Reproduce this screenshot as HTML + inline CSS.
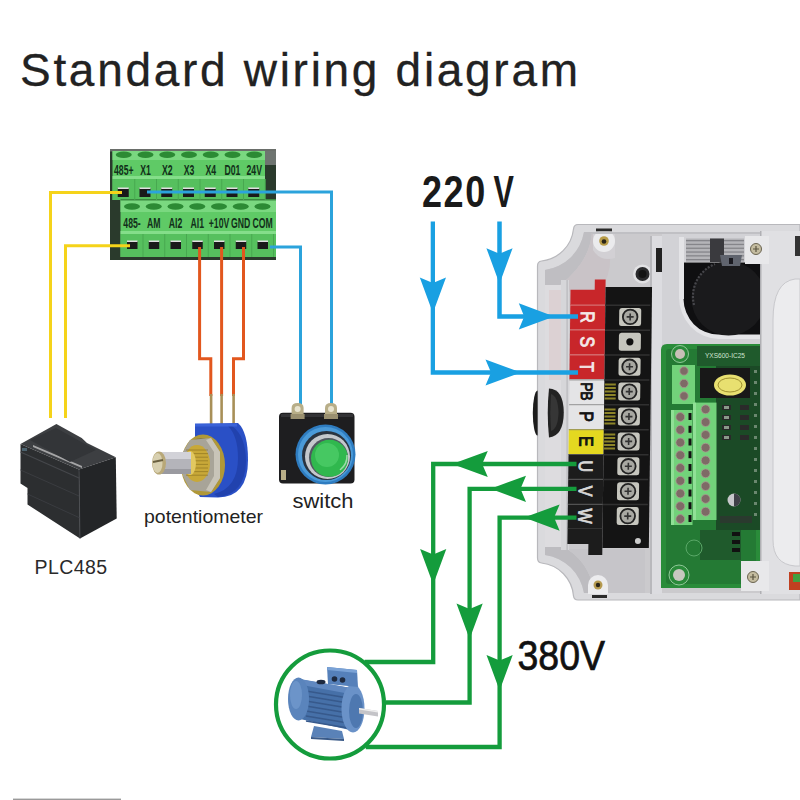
<!DOCTYPE html>
<html><head><meta charset="utf-8">
<style>
html,body{margin:0;padding:0;background:#fff;width:800px;height:800px;overflow:hidden}
svg{display:block}
text{font-family:"Liberation Sans",sans-serif}
</style></head>
<body>
<svg width="800" height="800" viewBox="0 0 800 800">
<rect width="800" height="800" fill="#fff"/>

<text x="0" y="0" font-size="46" fill="#222" stroke="#222" stroke-width="0.3" textLength="558" lengthAdjust="spacing" transform="translate(20 86)">Standard wiring diagram</text>
<rect x="110" y="149" width="166" height="111" fill="#2a3a2c"/>
<rect x="110" y="149" width="166" height="2.5" fill="#6a6e6a"/>
<rect x="265" y="151" width="11" height="14" fill="#6e7470"/>
<rect x="112.5" y="151" width="152.5" height="49" fill="#5fca66"/>
<rect x="112.5" y="151" width="152.5" height="9" fill="#7ad880"/>
<rect x="112.5" y="176" width="152.5" height="3" fill="#84de8a"/>
<rect x="112.5" y="179" width="152.5" height="21" fill="#56c05e"/>
<rect x="120.5" y="200" width="155.5" height="57" fill="#5fca66"/>
<rect x="120.5" y="200" width="155.5" height="12" fill="#7ad880"/>
<rect x="120.5" y="231" width="155.5" height="3" fill="#84de8a"/>
<rect x="120.5" y="234" width="155.5" height="23" fill="#56c05e"/>
<rect x="120.5" y="199" width="155.5" height="1.5" fill="#3a8a40"/>
<ellipse cx="123.75" cy="154.8" rx="8" ry="3.2" fill="#2c8a34"/>
<text x="123.75" y="175" font-size="15.5" font-weight="bold" fill="#12301a" text-anchor="middle" transform="translate(123.75 0) scale(0.56 1) translate(-123.75 0)">485+</text>
<rect x="134.25" y="179" width="1" height="21" fill="#48a850"/>
<rect x="117.75" y="188" width="11" height="9" fill="#1a1a1a"/>
<rect x="117.75" y="187.5" width="11" height="1.5" fill="#e0e0e0"/>
<ellipse cx="145.5" cy="154.8" rx="8" ry="3.2" fill="#2c8a34"/>
<text x="145.5" y="175" font-size="15.5" font-weight="bold" fill="#12301a" text-anchor="middle" transform="translate(145.5 0) scale(0.56 1) translate(-145.5 0)">X1</text>
<rect x="156.0" y="179" width="1" height="21" fill="#48a850"/>
<rect x="139.5" y="188" width="11" height="9" fill="#1a1a1a"/>
<rect x="139.5" y="187.5" width="11" height="1.5" fill="#e0e0e0"/>
<ellipse cx="167.25" cy="154.8" rx="8" ry="3.2" fill="#2c8a34"/>
<text x="167.25" y="175" font-size="15.5" font-weight="bold" fill="#12301a" text-anchor="middle" transform="translate(167.25 0) scale(0.56 1) translate(-167.25 0)">X2</text>
<rect x="177.75" y="179" width="1" height="21" fill="#48a850"/>
<rect x="161.25" y="188" width="11" height="9" fill="#1a1a1a"/>
<rect x="161.25" y="187.5" width="11" height="1.5" fill="#e0e0e0"/>
<ellipse cx="189.0" cy="154.8" rx="8" ry="3.2" fill="#2c8a34"/>
<text x="189.0" y="175" font-size="15.5" font-weight="bold" fill="#12301a" text-anchor="middle" transform="translate(189.0 0) scale(0.56 1) translate(-189.0 0)">X3</text>
<rect x="199.5" y="179" width="1" height="21" fill="#48a850"/>
<rect x="183.0" y="188" width="11" height="9" fill="#1a1a1a"/>
<rect x="183.0" y="187.5" width="11" height="1.5" fill="#e0e0e0"/>
<ellipse cx="210.75" cy="154.8" rx="8" ry="3.2" fill="#2c8a34"/>
<text x="210.75" y="175" font-size="15.5" font-weight="bold" fill="#12301a" text-anchor="middle" transform="translate(210.75 0) scale(0.56 1) translate(-210.75 0)">X4</text>
<rect x="221.25" y="179" width="1" height="21" fill="#48a850"/>
<rect x="204.75" y="188" width="11" height="9" fill="#1a1a1a"/>
<rect x="204.75" y="187.5" width="11" height="1.5" fill="#e0e0e0"/>
<ellipse cx="232.5" cy="154.8" rx="8" ry="3.2" fill="#2c8a34"/>
<text x="232.5" y="175" font-size="15.5" font-weight="bold" fill="#12301a" text-anchor="middle" transform="translate(232.5 0) scale(0.56 1) translate(-232.5 0)">D01</text>
<rect x="243.0" y="179" width="1" height="21" fill="#48a850"/>
<rect x="226.5" y="188" width="11" height="9" fill="#1a1a1a"/>
<rect x="226.5" y="187.5" width="11" height="1.5" fill="#e0e0e0"/>
<ellipse cx="254.25" cy="154.8" rx="8" ry="3.2" fill="#2c8a34"/>
<text x="254.25" y="175" font-size="15.5" font-weight="bold" fill="#12301a" text-anchor="middle" transform="translate(254.25 0) scale(0.56 1) translate(-254.25 0)">24V</text>
<rect x="264.75" y="179" width="1" height="21" fill="#48a850"/>
<rect x="248.25" y="188" width="11" height="9" fill="#1a1a1a"/>
<rect x="248.25" y="187.5" width="11" height="1.5" fill="#e0e0e0"/>
<ellipse cx="132.0" cy="206.5" rx="8" ry="3.2" fill="#2c8a34"/>
<text x="132.0" y="228" font-size="15.5" font-weight="bold" fill="#12301a" text-anchor="middle" transform="translate(132.0 0) scale(0.56 1) translate(-132.0 0)">485-</text>
<rect x="142.5" y="234" width="1" height="23" fill="#48a850"/>
<rect x="127.0" y="241" width="10.5" height="8" fill="#1a1a1a"/>
<rect x="127.0" y="240.5" width="10.5" height="1.5" fill="#e0e0e0"/>
<ellipse cx="153.75" cy="206.5" rx="8" ry="3.2" fill="#2c8a34"/>
<text x="153.75" y="228" font-size="15.5" font-weight="bold" fill="#12301a" text-anchor="middle" transform="translate(153.75 0) scale(0.56 1) translate(-153.75 0)">AM</text>
<rect x="164.25" y="234" width="1" height="23" fill="#48a850"/>
<rect x="148.75" y="241" width="10.5" height="8" fill="#1a1a1a"/>
<rect x="148.75" y="240.5" width="10.5" height="1.5" fill="#e0e0e0"/>
<ellipse cx="175.5" cy="206.5" rx="8" ry="3.2" fill="#2c8a34"/>
<text x="175.5" y="228" font-size="15.5" font-weight="bold" fill="#12301a" text-anchor="middle" transform="translate(175.5 0) scale(0.56 1) translate(-175.5 0)">AI2</text>
<rect x="186.0" y="234" width="1" height="23" fill="#48a850"/>
<rect x="170.5" y="241" width="10.5" height="8" fill="#1a1a1a"/>
<rect x="170.5" y="240.5" width="10.5" height="1.5" fill="#e0e0e0"/>
<ellipse cx="197.25" cy="206.5" rx="8" ry="3.2" fill="#2c8a34"/>
<text x="197.25" y="228" font-size="15.5" font-weight="bold" fill="#12301a" text-anchor="middle" transform="translate(197.25 0) scale(0.56 1) translate(-197.25 0)">AI1</text>
<rect x="207.75" y="234" width="1" height="23" fill="#48a850"/>
<rect x="192.25" y="241" width="10.5" height="8" fill="#1a1a1a"/>
<rect x="192.25" y="240.5" width="10.5" height="1.5" fill="#e0e0e0"/>
<ellipse cx="219.0" cy="206.5" rx="8" ry="3.2" fill="#2c8a34"/>
<text x="219.0" y="228" font-size="15.5" font-weight="bold" fill="#12301a" text-anchor="middle" transform="translate(219.0 0) scale(0.56 1) translate(-219.0 0)">+10V</text>
<rect x="229.5" y="234" width="1" height="23" fill="#48a850"/>
<rect x="214.0" y="241" width="10.5" height="8" fill="#1a1a1a"/>
<rect x="214.0" y="240.5" width="10.5" height="1.5" fill="#e0e0e0"/>
<ellipse cx="240.75" cy="206.5" rx="8" ry="3.2" fill="#2c8a34"/>
<text x="240.75" y="228" font-size="15.5" font-weight="bold" fill="#12301a" text-anchor="middle" transform="translate(240.75 0) scale(0.56 1) translate(-240.75 0)">GND</text>
<rect x="251.25" y="234" width="1" height="23" fill="#48a850"/>
<rect x="235.75" y="241" width="10.5" height="8" fill="#1a1a1a"/>
<rect x="235.75" y="240.5" width="10.5" height="1.5" fill="#e0e0e0"/>
<ellipse cx="262.5" cy="206.5" rx="8" ry="3.2" fill="#2c8a34"/>
<text x="262.5" y="228" font-size="15.5" font-weight="bold" fill="#12301a" text-anchor="middle" transform="translate(262.5 0) scale(0.56 1) translate(-262.5 0)">COM</text>
<rect x="273.0" y="234" width="1" height="23" fill="#48a850"/>
<rect x="257.5" y="241" width="10.5" height="8" fill="#1a1a1a"/>
<rect x="257.5" y="240.5" width="10.5" height="1.5" fill="#e0e0e0"/>
<polyline points="122,192.5 50.5,192.5 50.5,418" fill="none" stroke="#f5d31a" stroke-width="3"/>
<polyline points="130,245.7 65.5,245.7 65.5,418" fill="none" stroke="#f5d31a" stroke-width="3"/>
<polyline points="147,192 331.5,192 331.5,405" fill="none" stroke="#2ba3dc" stroke-width="3"/>
<polyline points="270,247 300.5,247 300.5,405" fill="none" stroke="#2ba3dc" stroke-width="3"/>
<polyline points="199.6,247 199.6,358.7 210.8,358.7 210.8,396" fill="none" stroke="#e2571e" stroke-width="3"/>
<polyline points="221.6,247 221.6,396" fill="none" stroke="#e2571e" stroke-width="3"/>
<polyline points="243.5,247 243.5,358.7 233.5,358.7 233.5,396" fill="none" stroke="#e2571e" stroke-width="3"/>
<polygon points="56.4,424 81.7,438 87,443 115.8,457.2 79,469.5 20.5,444.1" fill="#3d3f42"/>
<polygon points="20.5,444.1 79,469.5 80,538.6 27.5,504.5 27.5,488 20.5,483.5" fill="#2c2e30"/>
<polygon points="79,469.5 115.8,457.2 116.7,518.4 80,538.6" fill="#232527"/>
<polygon points="33,445 82,466 82,468 33,447" fill="#c8c8c8" opacity="0.75"/>
<polyline points="20.5,452 79,478" stroke="#45474b" stroke-width="1.2" fill="none"/>
<polyline points="20.5,470 79,496" stroke="#3a3c40" stroke-width="1" fill="none"/>
<polyline points="27.5,494 80,518" stroke="#3a3c40" stroke-width="1" fill="none"/>
<polyline points="79,469.5 80,538.6" stroke="#4a4c50" stroke-width="0.8" fill="none"/>
<rect x="22" y="448" width="5" height="3" fill="#5a7a8a" opacity="0.7"/>
<polygon points="30,440 56,428 96,450 70,462" fill="#333538"/>
<text x="34.5" y="574" font-size="19.5" fill="#2a2a2a" textLength="72.5" lengthAdjust="spacing">PLC485</text>
<rect x="209.8" y="394" width="2.6" height="31" fill="#a89058"/>
<rect x="220.3" y="394" width="2.6" height="31" fill="#a89058"/>
<rect x="232.3" y="394" width="2.6" height="31" fill="#a89058"/>
<path d="M195,424 L238,423 Q248,432 248,460 Q248,497 218,497.5 L200,497 Q195,490 195,480 Z" fill="#2a50c6"/>
<path d="M232,426 Q246,436 246,462 Q245,494 218,497 L214,494 Q238,488 238,458 Q238,436 228,426 Z" fill="#1f3fa8" opacity="0.8"/>
<rect x="195" y="423.5" width="42" height="3" fill="#3a62d8"/>
<ellipse cx="203" cy="465" rx="22" ry="30.5" fill="#b09838"/>
<ellipse cx="201" cy="464" rx="19" ry="26" fill="#8a7a48"/>
<polygon points="190,440 211,438 220,452 220,478 211,492 190,490 183,476 183,452" fill="#a8a498"/>
<polygon points="211,438 220,452 220,478 211,492 206,490 214,476 214,452 206,440" fill="#c8c4b8"/>
<ellipse cx="197" cy="463.5" rx="13" ry="18.5" fill="#c8a838"/>
<line x1="186" y1="450.0" x2="208" y2="450.0" stroke="#8a7020" stroke-width="0.9" opacity="0.7"/>
<line x1="186" y1="453.6" x2="208" y2="453.6" stroke="#8a7020" stroke-width="0.9" opacity="0.7"/>
<line x1="186" y1="457.2" x2="208" y2="457.2" stroke="#8a7020" stroke-width="0.9" opacity="0.7"/>
<line x1="186" y1="460.8" x2="208" y2="460.8" stroke="#8a7020" stroke-width="0.9" opacity="0.7"/>
<line x1="186" y1="464.4" x2="208" y2="464.4" stroke="#8a7020" stroke-width="0.9" opacity="0.7"/>
<line x1="186" y1="468.0" x2="208" y2="468.0" stroke="#8a7020" stroke-width="0.9" opacity="0.7"/>
<line x1="186" y1="471.6" x2="208" y2="471.6" stroke="#8a7020" stroke-width="0.9" opacity="0.7"/>
<line x1="186" y1="475.2" x2="208" y2="475.2" stroke="#8a7020" stroke-width="0.9" opacity="0.7"/>
<ellipse cx="190" cy="463" rx="6" ry="12" fill="#e2c860"/>
<rect x="160" y="452" width="31" height="22" fill="#b4b4ba"/>
<rect x="160" y="452" width="31" height="7" fill="#d2d2d8"/>
<rect x="160" y="469" width="31" height="5" fill="#9a9aa0"/>
<ellipse cx="159" cy="463" rx="7" ry="11.5" fill="#b8a878"/>
<ellipse cx="157.5" cy="463" rx="5" ry="10" fill="#d8d0b0"/>
<line x1="153" y1="462" x2="163" y2="460" stroke="#6a6040" stroke-width="2"/>
<text x="203.5" y="523" font-size="19" fill="#222" text-anchor="middle" textLength="119" lengthAdjust="spacingAndGlyphs">potentiometer</text>
<rect x="279" y="412.8" width="75.5" height="70.7" rx="4" fill="#1e1e20"/>
<rect x="281" y="414" width="72" height="3" fill="#3a3a3e" opacity="0.7"/>
<path d="M291.6,418 L291.6,408 Q291.6,403 297.6,403 Q303.6,403 303.6,408 L303.6,418 Z" fill="#b8ae88"/>
<circle cx="297.6" cy="409" r="3" fill="#e8e4d0"/>
<rect x="290.6" y="414" width="14" height="5" fill="#9a9070"/>
<path d="M325,418 L325,408 Q325,403 331,403 Q337,403 337,408 L337,418 Z" fill="#b8ae88"/>
<circle cx="331" cy="409" r="3" fill="#e8e4d0"/>
<rect x="324" y="414" width="14" height="5" fill="#9a9070"/>
<rect x="281" y="470" width="5" height="10" fill="#b8ae88"/>
<circle cx="325.5" cy="454.5" r="30" fill="#2e7cc0"/>
<circle cx="325.5" cy="454.5" r="27.5" fill="#4a9ad8"/>
<circle cx="326.5" cy="455.5" r="24.5" fill="#2a3440"/>
<circle cx="327.5" cy="456.5" r="22.5" fill="#c4c8cc"/>
<circle cx="328.5" cy="457.5" r="19.5" fill="#505860"/>
<circle cx="329.5" cy="458.3" r="18.5" fill="#30b84e"/>
<circle cx="327" cy="455" r="12" fill="#4ccc68" opacity="0.8"/>
<path d="M340,470 A18,18 0 0 0 347,455" stroke="#e8f0e8" stroke-width="1.5" fill="none" opacity="0.6"/>
<text x="323" y="508" font-size="20" fill="#222" text-anchor="middle" textLength="61" lengthAdjust="spacingAndGlyphs">switch</text>
<text x="0" y="0" font-size="45" font-weight="bold" fill="#1a1a1a" textLength="79" lengthAdjust="spacing" transform="translate(422 207) scale(0.8 1)">220</text>
<text x="0" y="0" font-size="45" font-weight="bold" fill="#1a1a1a" transform="translate(493.5 207) scale(0.68 1)">V</text>
<defs><radialGradient id="gcap" cx="0.45" cy="0.4" r="0.6"><stop offset="0" stop-color="#2a2a2c"/><stop offset="1" stop-color="#0e0e10"/></radialGradient></defs>
<path d="M582,224.5 L800,224.5 L800,600 L578,600 Q574,600 573.5,596 A36,36 0 0 0 541.5,563 Q537.5,562.5 537.5,558 L537.5,266 Q537.5,261.5 541.5,261 A36,36 0 0 0 573.5,229 Q574,224.5 578,224.5 Z" fill="#dadadd"/>
<path d="M582,224.5 L800,224.5 L800,600 L578,600 Q574,600 573.5,596 A36,36 0 0 0 541.5,563 Q537.5,562.5 537.5,558 L537.5,266 Q537.5,261.5 541.5,261 A36,36 0 0 0 573.5,229 Q574,224.5 578,224.5 Z" fill="none" stroke="#b8b8bc" stroke-width="1.2"/>
<path d="M584,232 L800,232 L800,593 L584,593 A46,46 0 0 0 545,555 L545,270 A46,46 0 0 0 584,232 Z" fill="#cbcacd"/>
<path d="M545,270 A46,46 0 0 0 584,232 L592,232 Q590,262 560,285 L545,290 Z" fill="#bfbec2"/>
<path d="M560,285 Q590,262 592,232 L610,250 Q612,275 600,290 L565,292 Z" fill="#c9c3c7"/>
<path d="M545,555 A46,46 0 0 1 584,593 L594,593 Q590,560 560,545 L545,545 Z" fill="#bdbcc0"/>
<path d="M560,545 Q590,560 594,593 L645,593 L645,549 L566,549 Z" fill="#c6c5c9"/>
<rect x="545" y="285" width="16" height="262" fill="#dddcdf"/>
<rect x="549" y="290" width="12" height="90" fill="#dccfd2" opacity="0.9"/>
<rect x="561" y="280" width="8" height="270" fill="#d6d6d9"/><rect x="566.5" y="280" width="1.2" height="270" fill="#b8b8bc"/>
<path d="M593,232 L593,250 Q600,262 615,258 L615,232 Z" fill="#d2d0d4"/>
<circle cx="604" cy="241" r="11" fill="#ebebed"/><circle cx="604" cy="241" r="4.8" fill="#b89c48"/><circle cx="604" cy="241.5" r="2.3" fill="#2a2418"/>
<rect x="596" y="228.5" width="16" height="2.8" fill="#2a2a2a"/>
<path d="M588,594 L588,585 A10,10 0 0 1 608,585 L608,594 Z" fill="#ececee"/><circle cx="598" cy="585" r="4.5" fill="#b59a50"/><circle cx="598" cy="585" r="2.2" fill="#2a2418"/>
<rect x="592" y="595" width="15" height="3" fill="#2a2a2a"/>
<circle cx="642.5" cy="274" r="9.5" fill="#e2e2e4"/><circle cx="642.5" cy="274" r="7" fill="#2a2a2c"/><circle cx="642.5" cy="274" r="4" fill="#141414"/>
<rect x="650" y="236" width="12" height="358" fill="#dcdce0"/>
<rect x="650" y="236" width="2" height="358" fill="#b8b8bc"/>
<rect x="656" y="248" width="7" height="24" fill="#222"/>
<rect x="592" y="232" width="208" height="2" fill="#c0c0c4"/>
<g transform="translate(0 290) skewX(-0.7) translate(0 -290)">
<path d="M570.5,289.7 L594.7,289.7 L594.7,279.4 L605.5,279.4 L605.5,305 L570.5,305 Z" fill="#c8262a"/>
<rect x="570.5" y="304.5" width="35" height="25.1" fill="#c8262a"/>
<rect x="570.5" y="304.5" width="35" height="1.2" fill="#e0a0a0" opacity="0.6"/>
<text x="0" y="0" font-size="19.5" fill="#f4e8e8" stroke="#f4e8e8" stroke-width="0.9" text-anchor="middle" transform="translate(588 316.9) rotate(90) scale(0.82 1) translate(0 6.8)">R</text>
<rect x="570.5" y="329.4" width="35" height="25.1" fill="#c8262a"/>
<rect x="570.5" y="329.4" width="35" height="1.2" fill="#e0a0a0" opacity="0.6"/>
<text x="0" y="0" font-size="19.5" fill="#f4e8e8" stroke="#f4e8e8" stroke-width="0.9" text-anchor="middle" transform="translate(588 341.8) rotate(90) scale(0.82 1) translate(0 6.8)">S</text>
<rect x="570.5" y="354.3" width="35" height="25.1" fill="#c8262a"/>
<rect x="570.5" y="354.3" width="35" height="1.2" fill="#e0a0a0" opacity="0.6"/>
<text x="0" y="0" font-size="19.5" fill="#f4e8e8" stroke="#f4e8e8" stroke-width="0.9" text-anchor="middle" transform="translate(588 366.8) rotate(90) scale(0.82 1) translate(0 6.8)">T</text>
<rect x="570.5" y="379.2" width="35" height="25.1" fill="#e4e4e6"/>
<rect x="570.5" y="379.2" width="35" height="1.2" fill="#777" opacity="0.6"/>
<text x="0" y="0" font-size="16.5" fill="#111" stroke="#111" stroke-width="0.9" text-anchor="middle" transform="translate(588 391.6) rotate(90) scale(0.82 1) translate(0 5.8)">PB</text>
<rect x="570.5" y="404.1" width="35" height="25.1" fill="#e4e4e6"/>
<rect x="570.5" y="404.1" width="35" height="1.2" fill="#777" opacity="0.6"/>
<text x="0" y="0" font-size="19.5" fill="#111" stroke="#111" stroke-width="0.9" text-anchor="middle" transform="translate(588 416.6) rotate(90) scale(0.82 1) translate(0 6.8)">P</text>
<rect x="570.5" y="429.0" width="35" height="25.1" fill="#e4d820"/>
<rect x="570.5" y="429.0" width="35" height="1.2" fill="#777" opacity="0.6"/>
<text x="0" y="0" font-size="19.5" fill="#111" stroke="#111" stroke-width="0.9" text-anchor="middle" transform="translate(588 441.4) rotate(90) scale(0.82 1) translate(0 6.8)">E</text>
<rect x="570.5" y="453.9" width="35" height="25.1" fill="#1c1c1c"/>
<rect x="570.5" y="453.9" width="35" height="1.2" fill="#777" opacity="0.6"/>
<text x="0" y="0" font-size="19.5" fill="#d8d8d8" stroke="#d8d8d8" stroke-width="0.9" text-anchor="middle" transform="translate(588 466.3) rotate(90) scale(0.82 1) translate(0 6.8)">U</text>
<rect x="570.5" y="478.8" width="35" height="25.1" fill="#1c1c1c"/>
<rect x="570.5" y="478.8" width="35" height="1.2" fill="#777" opacity="0.6"/>
<text x="0" y="0" font-size="19.5" fill="#d8d8d8" stroke="#d8d8d8" stroke-width="0.9" text-anchor="middle" transform="translate(588 491.2) rotate(90) scale(0.82 1) translate(0 6.8)">V</text>
<rect x="570.5" y="503.7" width="35" height="25.1" fill="#1c1c1c"/>
<rect x="570.5" y="503.7" width="35" height="1.2" fill="#777" opacity="0.6"/>
<text x="0" y="0" font-size="19.5" fill="#d8d8d8" stroke="#d8d8d8" stroke-width="0.9" text-anchor="middle" transform="translate(588 516.1) rotate(90) scale(0.82 1) translate(0 6.8)">W</text>
<path d="M570.5,528.5 L605.5,528.5 L605.5,555 L591.5,555 L591.5,544 L570.5,544 Z" fill="#1c1c1c"/>
<rect x="605.5" y="287" width="46.5" height="261" fill="#141414"/>
<rect x="605.5" y="304.5" width="45" height="1.5" fill="#303030"/>
<rect x="619.5" y="307.9" width="22" height="18" rx="2.5" fill="#c6c6be"/>
<circle cx="630.5" cy="316.9" r="7.3" fill="#a8a8a2" stroke="#222" stroke-width="1.8"/>
<path d="M627,316.9 h7 M630.5,313.4 v7" stroke="#333" stroke-width="1.6"/>
<rect x="605.5" y="329.4" width="45" height="1.5" fill="#303030"/>
<rect x="619.5" y="332.8" width="22" height="18" rx="2.5" fill="#c6c6be"/>
<circle cx="630.5" cy="341.8" r="3.6" fill="#111"/>
<rect x="605.5" y="354.3" width="45" height="1.5" fill="#303030"/>
<rect x="619.5" y="357.8" width="22" height="18" rx="2.5" fill="#c6c6be"/>
<circle cx="630.5" cy="366.8" r="7.3" fill="#a8a8a2" stroke="#222" stroke-width="1.8"/>
<path d="M627,366.8 h7 M630.5,363.2 v7" stroke="#333" stroke-width="1.6"/>
<rect x="605.5" y="379.2" width="45" height="1.5" fill="#303030"/>
<rect x="606" y="383.6" width="11" height="2" fill="#8c8428"/>
<rect x="606" y="387.1" width="11" height="2" fill="#8c8428"/>
<rect x="606" y="390.6" width="11" height="2" fill="#8c8428"/>
<rect x="606" y="394.1" width="11" height="2" fill="#8c8428"/>
<rect x="606" y="397.6" width="11" height="2" fill="#8c8428"/>
<rect x="619.5" y="382.6" width="22" height="18" rx="2.5" fill="#c6c6be"/>
<circle cx="630.5" cy="391.6" r="7.3" fill="#a8a8a2" stroke="#222" stroke-width="1.8"/>
<path d="M627,391.6 h7 M630.5,388.1 v7" stroke="#333" stroke-width="1.6"/>
<rect x="605.5" y="404.1" width="45" height="1.5" fill="#303030"/>
<rect x="606" y="408.6" width="11" height="2" fill="#8c8428"/>
<rect x="606" y="412.1" width="11" height="2" fill="#8c8428"/>
<rect x="606" y="415.6" width="11" height="2" fill="#8c8428"/>
<rect x="606" y="419.1" width="11" height="2" fill="#8c8428"/>
<rect x="606" y="422.6" width="11" height="2" fill="#8c8428"/>
<rect x="619.5" y="407.6" width="22" height="18" rx="2.5" fill="#c6c6be"/>
<circle cx="630.5" cy="416.6" r="7.3" fill="#a8a8a2" stroke="#222" stroke-width="1.8"/>
<path d="M627,416.6 h7 M630.5,413.1 v7" stroke="#333" stroke-width="1.6"/>
<rect x="605.5" y="429.0" width="45" height="1.5" fill="#303030"/>
<rect x="606" y="433.4" width="11" height="2" fill="#8c8428"/>
<rect x="606" y="436.9" width="11" height="2" fill="#8c8428"/>
<rect x="606" y="440.4" width="11" height="2" fill="#8c8428"/>
<rect x="606" y="443.9" width="11" height="2" fill="#8c8428"/>
<rect x="606" y="447.4" width="11" height="2" fill="#8c8428"/>
<rect x="619.5" y="432.4" width="22" height="18" rx="2.5" fill="#c6c6be"/>
<circle cx="630.5" cy="441.4" r="7.3" fill="#a8a8a2" stroke="#222" stroke-width="1.8"/>
<path d="M627,441.4 h7 M630.5,437.9 v7" stroke="#333" stroke-width="1.6"/>
<rect x="605.5" y="453.9" width="45" height="1.5" fill="#303030"/>
<rect x="619.5" y="457.3" width="22" height="18" rx="2.5" fill="#c6c6be"/>
<circle cx="630.5" cy="466.3" r="7.3" fill="#a8a8a2" stroke="#222" stroke-width="1.8"/>
<path d="M627,466.3 h7 M630.5,462.8 v7" stroke="#333" stroke-width="1.6"/>
<rect x="605.5" y="478.8" width="45" height="1.5" fill="#303030"/>
<rect x="619.5" y="482.2" width="22" height="18" rx="2.5" fill="#c6c6be"/>
<circle cx="630.5" cy="491.2" r="7.3" fill="#a8a8a2" stroke="#222" stroke-width="1.8"/>
<path d="M627,491.2 h7 M630.5,487.7 v7" stroke="#333" stroke-width="1.6"/>
<rect x="605.5" y="503.7" width="45" height="1.5" fill="#303030"/>
<rect x="619.5" y="507.1" width="22" height="18" rx="2.5" fill="#c6c6be"/>
<circle cx="630.5" cy="516.1" r="7.3" fill="#a8a8a2" stroke="#222" stroke-width="1.8"/>
<path d="M627,516.1 h7 M630.5,512.6 v7" stroke="#333" stroke-width="1.6"/>
<circle cx="641" cy="541" r="3" fill="#ccc"/>
</g>
<rect x="662" y="234" width="98" height="110" fill="#d2d2d6"/>
<rect x="686" y="238.5" width="58" height="24" fill="#b4b4b8"/>
<rect x="686" y="240.0" width="58" height="1.3" fill="#85858a"/>
<rect x="686" y="243.8" width="58" height="1.3" fill="#85858a"/>
<rect x="686" y="247.6" width="58" height="1.3" fill="#85858a"/>
<rect x="686" y="251.4" width="58" height="1.3" fill="#85858a"/>
<rect x="686" y="255.2" width="58" height="1.3" fill="#85858a"/>
<rect x="686" y="259.0" width="58" height="1.3" fill="#85858a"/>
<rect x="710" y="238.5" width="14" height="24" fill="#3a3a3e"/>
<path d="M679,262 L760,262 L760,339 L719,339 A40,42 0 0 1 679,297 Z" fill="#e4e4e7"/>
<path d="M683.5,262.5 L760,262.5 L760,334.5 L718,334.5 A34.5,36 0 0 1 683.5,299 Z" fill="#0f0f11"/>
<circle cx="728.5" cy="298.5" r="37" fill="#1a1a1c"/>
<path d="M694,305 A35,35 0 0 1 715,264" stroke="#5a5a60" stroke-width="2.2" fill="none" stroke-dasharray="2 1.5" opacity="0.7"/>
<polygon points="720,255 742,255 740,266 722,266" fill="#60646e"/>
<rect x="729" y="258" width="4" height="6" fill="#1a1a20"/>
<rect x="679" y="237" width="5" height="62" fill="#e4e4e7"/>
<path d="M667,344 L760,344 L760,561 L741,561 L741,588 L661,588 L661,350 Q661,344 667,344 Z" fill="#2a8c3a"/>
<rect x="666" y="349" width="90" height="235" rx="3" fill="#247a34"/>
<rect x="716" y="362" width="44" height="168" fill="#1b4a26"/>
<rect x="697" y="346" width="63" height="20" fill="#1f5a2c"/>
<rect x="700" y="530" width="41" height="30" fill="#1f5a2c"/>
<circle cx="680" cy="354" r="8.5" fill="#2a8a3a" stroke="#90c898" stroke-width="1"/><circle cx="680" cy="354" r="5" fill="#c8c0b8"/>
<circle cx="679" cy="575" r="10" fill="#2a8a3a" stroke="#90c898" stroke-width="1"/><circle cx="679" cy="575" r="6" fill="#c8c8c0"/>
<text x="705" y="358" font-size="7.5" fill="#d0e4d0" textLength="40" lengthAdjust="spacingAndGlyphs">YXS600-IC25</text>
<rect x="700" y="368" width="50" height="30" fill="#181818"/>
<ellipse cx="730" cy="385" rx="16" ry="10.5" fill="#e8e070"/>
<ellipse cx="730" cy="385" rx="12" ry="7" fill="none" stroke="#8a7a20" stroke-width="0.8"/>
<rect x="672" y="365" width="23" height="39" fill="#72d27a"/>
<circle cx="684" cy="371.0" r="4.2" fill="#7e6a66" stroke="#a89a90" stroke-width="0.8"/>
<circle cx="684" cy="383.5" r="4.2" fill="#7e6a66" stroke="#a89a90" stroke-width="0.8"/>
<circle cx="684" cy="396.0" r="4.2" fill="#7e6a66" stroke="#a89a90" stroke-width="0.8"/>
<rect x="671" y="410" width="21.5" height="115" fill="#72d27a"/>
<rect x="671" y="410" width="3" height="115" fill="#90e096"/>
<circle cx="680.3" cy="417.0" r="4.4" fill="#7e6a66" stroke="#a89a90" stroke-width="0.8"/>
<rect x="688.5" y="413.0" width="3" height="7" fill="#111"/>
<circle cx="680.3" cy="429.8" r="4.4" fill="#7e6a66" stroke="#a89a90" stroke-width="0.8"/>
<rect x="688.5" y="425.8" width="3" height="7" fill="#111"/>
<circle cx="680.3" cy="442.5" r="4.4" fill="#7e6a66" stroke="#a89a90" stroke-width="0.8"/>
<rect x="688.5" y="438.5" width="3" height="7" fill="#111"/>
<circle cx="680.3" cy="455.2" r="4.4" fill="#7e6a66" stroke="#a89a90" stroke-width="0.8"/>
<rect x="688.5" y="451.2" width="3" height="7" fill="#111"/>
<circle cx="680.3" cy="468.0" r="4.4" fill="#7e6a66" stroke="#a89a90" stroke-width="0.8"/>
<rect x="688.5" y="464.0" width="3" height="7" fill="#111"/>
<circle cx="680.3" cy="480.8" r="4.4" fill="#7e6a66" stroke="#a89a90" stroke-width="0.8"/>
<rect x="688.5" y="476.8" width="3" height="7" fill="#111"/>
<circle cx="680.3" cy="493.5" r="4.4" fill="#7e6a66" stroke="#a89a90" stroke-width="0.8"/>
<rect x="688.5" y="489.5" width="3" height="7" fill="#111"/>
<circle cx="680.3" cy="506.2" r="4.4" fill="#7e6a66" stroke="#a89a90" stroke-width="0.8"/>
<rect x="688.5" y="502.2" width="3" height="7" fill="#111"/>
<circle cx="680.3" cy="519.0" r="4.4" fill="#7e6a66" stroke="#a89a90" stroke-width="0.8"/>
<rect x="688.5" y="515.0" width="3" height="7" fill="#111"/>
<rect x="693" y="402.6" width="23.5" height="117.4" fill="#72d27a"/>
<rect x="693" y="402.6" width="3" height="117.4" fill="#90e096"/>
<circle cx="705.6" cy="409.3" r="4.4" fill="#7e6a66" stroke="#a89a90" stroke-width="0.8"/>
<circle cx="705.6" cy="422.1" r="4.4" fill="#7e6a66" stroke="#a89a90" stroke-width="0.8"/>
<circle cx="705.6" cy="434.9" r="4.4" fill="#7e6a66" stroke="#a89a90" stroke-width="0.8"/>
<circle cx="705.6" cy="447.7" r="4.4" fill="#7e6a66" stroke="#a89a90" stroke-width="0.8"/>
<circle cx="705.6" cy="460.5" r="4.4" fill="#7e6a66" stroke="#a89a90" stroke-width="0.8"/>
<circle cx="705.6" cy="473.3" r="4.4" fill="#7e6a66" stroke="#a89a90" stroke-width="0.8"/>
<circle cx="705.6" cy="486.1" r="4.4" fill="#7e6a66" stroke="#a89a90" stroke-width="0.8"/>
<circle cx="705.6" cy="498.9" r="4.4" fill="#7e6a66" stroke="#a89a90" stroke-width="0.8"/>
<circle cx="705.6" cy="511.7" r="4.4" fill="#7e6a66" stroke="#a89a90" stroke-width="0.8"/>
<rect x="722" y="405" width="9" height="5" fill="#2a2a2a"/><rect x="724" y="406" width="5" height="3" fill="#8a9a8a"/>
<rect x="740" y="405" width="9" height="5" fill="#2a2a2a"/>
<rect x="722" y="415" width="9" height="5" fill="#2a2a2a"/><rect x="724" y="416" width="5" height="3" fill="#8a9a8a"/>
<rect x="740" y="415" width="9" height="5" fill="#2a2a2a"/>
<rect x="722" y="425" width="9" height="5" fill="#2a2a2a"/><rect x="724" y="426" width="5" height="3" fill="#8a9a8a"/>
<rect x="740" y="425" width="9" height="5" fill="#2a2a2a"/>
<rect x="722" y="435" width="9" height="5" fill="#2a2a2a"/><rect x="724" y="436" width="5" height="3" fill="#8a9a8a"/>
<rect x="740" y="435" width="9" height="5" fill="#2a2a2a"/>
<rect x="754" y="370" width="3" height="3" fill="#a0b0a0" opacity="0.6"/>
<rect x="754" y="381" width="3" height="3" fill="#a0b0a0" opacity="0.6"/>
<rect x="754" y="392" width="3" height="3" fill="#a0b0a0" opacity="0.6"/>
<rect x="754" y="403" width="3" height="3" fill="#a0b0a0" opacity="0.6"/>
<rect x="754" y="414" width="3" height="3" fill="#a0b0a0" opacity="0.6"/>
<rect x="754" y="425" width="3" height="3" fill="#a0b0a0" opacity="0.6"/>
<rect x="754" y="436" width="3" height="3" fill="#a0b0a0" opacity="0.6"/>
<rect x="754" y="447" width="3" height="3" fill="#a0b0a0" opacity="0.6"/>
<rect x="754" y="458" width="3" height="3" fill="#a0b0a0" opacity="0.6"/>
<rect x="754" y="469" width="3" height="3" fill="#a0b0a0" opacity="0.6"/>
<rect x="754" y="480" width="3" height="3" fill="#a0b0a0" opacity="0.6"/>
<rect x="754" y="491" width="3" height="3" fill="#a0b0a0" opacity="0.6"/>
<rect x="754" y="502" width="3" height="3" fill="#a0b0a0" opacity="0.6"/>
<rect x="754" y="513" width="3" height="3" fill="#a0b0a0" opacity="0.6"/>
<circle cx="734" cy="500" r="6.5" fill="#c8c8cc"/><path d="M734,493.5 A6.5,6.5 0 0 1 734,506.5 Z" fill="#404048"/>
<rect x="720" y="516" width="32" height="7" fill="#2a3a2e"/>
<rect x="732" y="532" width="8" height="4" fill="#111"/><rect x="732" y="540" width="8" height="4" fill="#111"/><rect x="732" y="548" width="8" height="4" fill="#111"/>
<circle cx="694" cy="548" r="8" fill="none" stroke="#5aa868" stroke-width="1"/>
<rect x="760" y="231" width="40" height="363" fill="#e0e0e3"/>
<rect x="760" y="231" width="1.5" height="363" fill="#b0b0b4"/>
<rect x="745" y="236" width="24" height="28" fill="#e8e8ea"/>
<circle cx="756" cy="249" r="5.5" fill="#c4bca0" stroke="#6a6450" stroke-width="1"/><path d="M753,249 h6 M756,246 v6" stroke="#5a5440" stroke-width="1.2"/>
<rect x="741" y="561" width="28" height="30" fill="#e8e8ea"/>
<circle cx="753" cy="577" r="5.5" fill="#c4bca0" stroke="#6a6450" stroke-width="1"/><path d="M750,577 h6 M753,574 v6" stroke="#5a5440" stroke-width="1.2"/>
<path d="M800,279 L795,279 Q773,282 773,320 L773,540 Q773,564 795,566 L800,566 Z" fill="#ececee" stroke="#c8c8cc" stroke-width="1"/>
<rect x="789" y="572" width="11" height="18" fill="#c04020"/>
<rect x="793" y="574" width="7" height="8" fill="#40a040"/>
<rect x="795" y="236" width="5" height="20" fill="#333"/>
<path d="M537.6,390.5 A4.8,22.5 0 0 0 537.6,435.5 Z" fill="#1c1c1c"/>
<path d="M549,388.5 Q563.5,389 563.8,412.5 Q563.5,436 549,437.5 Q546.5,412.5 549,388.5 Z" fill="#222"/>
<path d="M551,394 Q558,396 558.5,412.5 Q558,429 551,431 Q549.5,412.5 551,394 Z" fill="#363636"/>
<polyline points="432.85,221.5 432.85,372.5 578,372.5" fill="none" stroke="#19a0e2" stroke-width="4.3"/>
<polyline points="499.5,221.5 499.5,316.4 578,316.4" fill="none" stroke="#19a0e2" stroke-width="4.5"/>
<polygon points="419.8,277.4 432.9,282.9 446.0,277.4 432.9,312.9" fill="#19a0e2"/>
<polygon points="486.4,248.2 499.5,253.7 512.6,248.2 499.5,283.7" fill="#19a0e2"/>
<polygon points="485.5,359.4 491.0,372.5 485.5,385.6 521.0,372.5" fill="#19a0e2"/>
<polygon points="518.8,303.3 524.2,316.4 518.8,329.5 554.2,316.4" fill="#19a0e2"/>
<polyline points="576.5,464 433.2,464 433.2,662 364.6,662" fill="none" stroke="#149c3c" stroke-width="4.3"/>
<polyline points="576.5,488.8 469.6,488.8 469.6,702.5 386,702.5" fill="none" stroke="#149c3c" stroke-width="4.3"/>
<polyline points="576.5,517.6 499.6,517.6 499.6,747 365.8,747" fill="none" stroke="#149c3c" stroke-width="4.3"/>
<polygon points="487.8,450.9 482.2,464.0 487.8,477.1 452.2,464.0" fill="#149c3c"/>
<polygon points="526.0,475.7 520.5,488.8 526.0,501.9 490.5,488.8" fill="#149c3c"/>
<polygon points="559.6,504.5 554.1,517.6 559.6,530.7 524.1,517.6" fill="#149c3c"/>
<polygon points="420.1,549.0 433.2,554.5 446.3,549.0 433.2,584.5" fill="#149c3c"/>
<polygon points="456.5,603.6 469.6,609.1 482.7,603.6 469.6,639.1" fill="#149c3c"/>
<polygon points="486.5,655.0 499.6,660.5 512.7,655.0 499.6,690.5" fill="#149c3c"/>
<text x="517.5" y="669.5" font-size="43" fill="#111" stroke="#111" stroke-width="0.7" textLength="87.5" lengthAdjust="spacingAndGlyphs">380V</text>
<circle cx="330" cy="704.5" r="54" fill="#fff" stroke="#149c3c" stroke-width="4.2"/>
<polygon points="314,726 342,731 344,739 311,737" fill="#5a82b8"/>
<polygon points="311,737 344,739 344,741 311,739" fill="#3a5a88"/>
<polygon points="298,679 351,688 350,730 300,719" fill="#4670a8"/>
<line x1="306" y1="691" x2="348" y2="698" stroke="#37598c" stroke-width="1.5"/>
<line x1="306" y1="696" x2="348" y2="703" stroke="#37598c" stroke-width="1.5"/>
<line x1="306" y1="701" x2="348" y2="708" stroke="#37598c" stroke-width="1.5"/>
<line x1="306" y1="706" x2="348" y2="713" stroke="#37598c" stroke-width="1.5"/>
<line x1="306" y1="711" x2="348" y2="718" stroke="#37598c" stroke-width="1.5"/>
<line x1="306" y1="716" x2="348" y2="723" stroke="#37598c" stroke-width="1.5"/>
<line x1="306" y1="721" x2="348" y2="728" stroke="#37598c" stroke-width="1.5"/>
<polygon points="300,679 351,688 350,694 302,685" fill="#6088c0"/>
<ellipse cx="298.5" cy="699" rx="10.5" ry="21.5" fill="#5a84bc"/>
<ellipse cx="296" cy="695" rx="6" ry="14" fill="#7098cc" opacity="0.8"/>
<ellipse cx="353" cy="708.5" rx="11.5" ry="24" fill="#6a92c8"/>
<ellipse cx="356" cy="711" rx="7" ry="17" fill="#4e78b0"/>
<polygon points="359,708 378,711 378,716.5 359,713.5" fill="#c4c4c8"/>
<polygon points="359,708 378,711 378,712.5 359,709.5" fill="#eeeeee"/>
<polygon points="327,667 357,670 358,687 328,684" fill="#5580ba"/>
<polygon points="327,667 357,670 357,673 327.5,670" fill="#7aa2d6"/>
<circle cx="334.5" cy="679" r="2.8" fill="#1e2a40"/>
<circle cx="342.5" cy="680" r="2.8" fill="#1e2a40"/>
<ellipse cx="321" cy="682" rx="4.5" ry="2.3" fill="#1e2a40"/>
<rect x="13" y="798.6" width="108" height="1.4" fill="#9a9a9a"/>
</svg></body></html>
